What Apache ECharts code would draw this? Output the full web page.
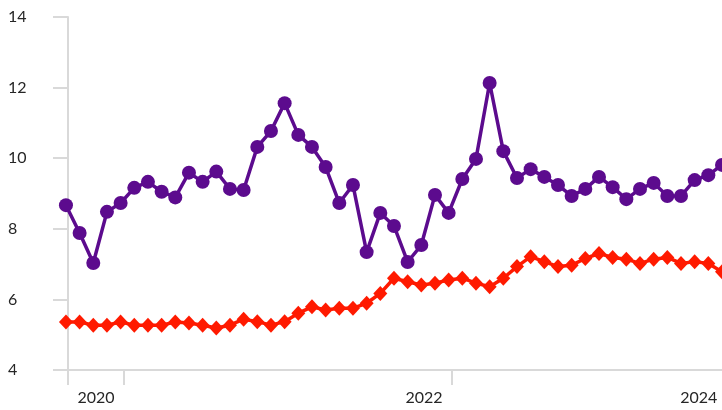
<!DOCTYPE html>
<html>
<head>
<meta charset="utf-8">
<script src="https://cdn.jsdelivr.net/npm/echarts@6/dist/echarts.min.js"></script>
<style>
  html, body { margin: 0; padding: 0; background: #fff; }
  #chart { width: 722px; height: 410px; }
</style>
</head>
<body>
<div id="chart"></div>
<script>
// monthly observations, first one is Sep 2019
var startYear = 2019, startMonth = 9;
var purple = [8.67, 7.88, 7.03, 8.48, 8.73, 9.16, 9.33, 9.05, 8.89, 9.59, 9.33, 9.62, 9.13,
  9.10, 10.32, 10.77, 11.56, 10.66, 10.32, 9.75, 8.73, 9.24, 7.34, 8.45, 8.08, 7.06,
  7.54, 8.96, 8.45, 9.41, 9.98, 12.13, 10.20, 9.44, 9.69, 9.47, 9.24, 8.93, 9.13,
  9.47, 9.18, 8.84, 9.13, 9.30, 8.93, 8.93, 9.38, 9.52, 9.81];
var red = [5.36, 5.36, 5.27, 5.27, 5.36, 5.27, 5.27, 5.27, 5.36, 5.33, 5.27, 5.19, 5.27,
  5.44, 5.37, 5.27, 5.37, 5.61, 5.79, 5.70, 5.75, 5.75, 5.89, 6.17, 6.60, 6.50,
  6.41, 6.46, 6.55, 6.60, 6.46, 6.36, 6.60, 6.93, 7.21, 7.07, 6.93, 6.97, 7.16,
  7.30, 7.19, 7.14, 7.02, 7.14, 7.19, 7.02, 7.07, 7.02, 6.78];
var yTicks = [4, 6, 8, 10, 12, 14];
var yearLabels = ['2020', '2022', '2024'];

function toPairs(arr) {
  return arr.map(function (v, i) { return [i, v]; });
}
// month index of January of a given year
function janIndex(y) { return (y - startYear) * 12 + (1 - startMonth); }

var labelPos = [2.2, 26.2, 46.3];

var myChart = echarts.init(document.getElementById('chart'));
var axisGray = '#d9d9d9';
var option = {
  animation: false,
  textStyle: { fontFamily: 'Lato' },
  grid: { left: 68, right: 0, top: 17, bottom: 40 },
  xAxis: {
    type: 'value',
    min: 0.15,
    max: purple.length - 1,
    axisLine: { lineStyle: { color: axisGray, width: 2 } },
    axisTick: {
      length: 15,
      lineStyle: { color: axisGray, width: 2 },
      customValues: [0.15, janIndex(2020) + 0.2, janIndex(2022) + 0.2]
    },
    axisLabel: {
      customValues: labelPos,
      margin: 20,
      fontSize: 16,
      color: '#262626',
      formatter: function (v) {
        return yearLabels[labelPos.indexOf(v)] || '';
      }
    },
    splitLine: { show: false }
  },
  yAxis: {
    type: 'value',
    min: yTicks[0],
    max: yTicks[yTicks.length - 1],
    interval: 2,
    axisLine: { show: true, lineStyle: { color: axisGray, width: 2 } },
    axisTick: { show: true, length: 15, lineStyle: { color: axisGray, width: 2 } },
    axisLabel: { align: 'left', margin: 60, fontSize: 16, color: '#262626' },
    splitLine: { show: false }
  },
  series: [
    {
      type: 'line',
      data: toPairs(red),
      clip: false,
      symbol: 'diamond',
      symbolSize: [14, 15],
      showAllSymbol: true,
      itemStyle: { color: '#ff1a00' },
      lineStyle: { color: '#ff1a00', width: 3.5 }
    },
    {
      type: 'line',
      data: toPairs(purple),
      clip: false,
      symbol: 'circle',
      symbolSize: 14,
      showAllSymbol: true,
      itemStyle: { color: '#5c0b8e' },
      lineStyle: { color: '#5c0b8e', width: 3.5 }
    }
  ]
};
myChart.setOption(option);
</script>
</body>
</html>
